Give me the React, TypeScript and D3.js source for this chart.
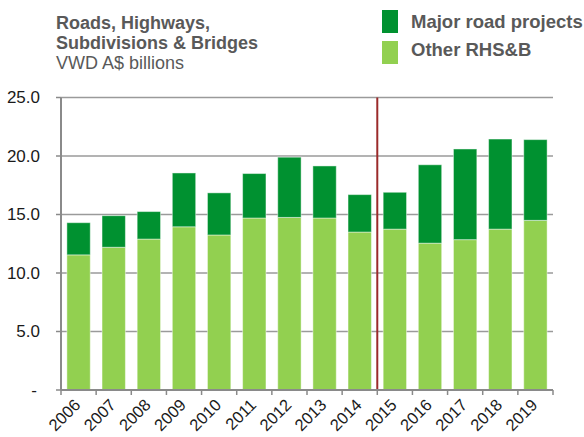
import React from 'react';
import * as d3 from 'd3';

const years = ['2006', '2007', '2008', '2009', '2010', '2011', '2012', '2013', '2014', '2015', '2016', '2017', '2018', '2019'];
const otherRHSB = [11.55, 12.2, 12.9, 13.95, 13.25, 14.7, 14.75, 14.7, 13.5, 13.75, 12.55, 12.85, 13.75, 14.5];
const majorRoad = [2.75, 2.7, 2.35, 4.6, 3.6, 3.8, 5.15, 4.45, 3.2, 3.15, 6.7, 7.75, 7.7, 6.9];
const yTicks = [0, 5, 10, 15, 20, 25];
const forecastFrom = '2015';

const DARK = '#009130';
const LIGHT = '#92D050';
const TEXT = '#595959';
const FONT = 'Liberation Sans, Arial, sans-serif';

const App = () => {
  const width = 584;
  const height = 437;
  const margin = { top: 97.5, right: 31, bottom: 47, left: 61 };
  const innerWidth = width - margin.left - margin.right;
  const innerHeight = height - margin.top - margin.bottom;

  const x = d3.scaleBand().domain(years).range([0, innerWidth]).paddingInner(0.335).paddingOuter(0.1675);
  const y = d3.scaleLinear().domain([0, 25]).range([innerHeight, 0]);

  const stacked = years.map((yr, i) => ({ yr, other: otherRHSB[i], major: majorRoad[i] }));
  const step = x.step();
  const dividerX = (x(forecastFrom) as number) - x.paddingInner() * step / 2;

  return (
    <svg width={width} height={height} style={{ position: 'absolute', left: 0, top: 0 }} fontFamily={FONT}>
      {/* title */}
      <text x={56} y={29} fontSize={18} fontWeight="bold" fill={TEXT}>Roads, Highways,</text>
      <text x={56} y={49} fontSize={18} fontWeight="bold" fill={TEXT}>Subdivisions &amp; Bridges</text>
      <text x={56} y={69} fontSize={18} fill={TEXT}>VWD A$ billions</text>

      {/* legend */}
      <rect x={382} y={10} width={16} height={23} fill={DARK} />
      <text x={411} y={28} fontSize={18.5} fontWeight="bold" fill={TEXT}>Major road projects</text>
      <rect x={382} y={41} width={16} height={23} fill={LIGHT} />
      <text x={411} y={56} fontSize={18.5} fontWeight="bold" fill={TEXT}>Other RHS&amp;B</text>

      <g transform={`translate(${margin.left},${margin.top})`}>
        {/* gridlines + y ticks */}
        {yTicks.map(t => (
          <g key={t}>
            {t > 0 && <line x1={0} x2={innerWidth} y1={y(t)} y2={y(t)} stroke="#9a9a9a" strokeWidth={1.5} />}
            <line x1={-5} x2={0} y1={y(t)} y2={y(t)} stroke="#8a8a8a" strokeWidth={1.5} />
            <text x={t === 0 ? -24 : -21} y={y(t)} dy="0.35em" textAnchor="end" fontSize={17} fill="#1a1a1a">
              {t === 0 ? '-' : d3.format('.1f')(t)}
            </text>
          </g>
        ))}

        {/* bars */}
        {stacked.map(d => (
          <g key={d.yr}>
            <rect x={x(d.yr)} y={y(d.other)} width={x.bandwidth()} height={innerHeight - y(d.other)}
              fill={LIGHT} stroke="#ffffff" strokeOpacity={0.45} strokeWidth={1} />
            <rect x={x(d.yr)} y={y(d.other + d.major)} width={x.bandwidth()} height={y(d.other) - y(d.other + d.major)}
              fill={DARK} stroke="#ffffff" strokeOpacity={0.45} strokeWidth={1} />
          </g>
        ))}

        {/* forecast divider */}
        <line x1={dividerX} x2={dividerX} y1={0} y2={innerHeight} stroke="#9b2a2a" strokeWidth={2} />

        {/* axes */}
        <line x1={0} x2={0} y1={0} y2={innerHeight} stroke="#8a8a8a" strokeWidth={2} />
        <line x1={0} x2={innerWidth} y1={innerHeight} y2={innerHeight} stroke="#8a8a8a" strokeWidth={2} />
        {years.map((yr, i) => (
          <line key={'t' + yr} x1={i * step} x2={i * step} y1={innerHeight} y2={innerHeight + 5} stroke="#8a8a8a" strokeWidth={1.5} />
        ))}
        <line x1={innerWidth} x2={innerWidth} y1={innerHeight} y2={innerHeight + 5} stroke="#8a8a8a" strokeWidth={1.5} />

        {/* x labels */}
        {years.map(yr => (
          <text key={'l' + yr} transform={`translate(${(x(yr) as number) + x.bandwidth() / 2 + 3},${innerHeight + 16}) rotate(-45)`}
            textAnchor="end" fontSize={16.5} fill="#1a1a1a">{yr}</text>
        ))}
      </g>
    </svg>
  );
};

export default App;
